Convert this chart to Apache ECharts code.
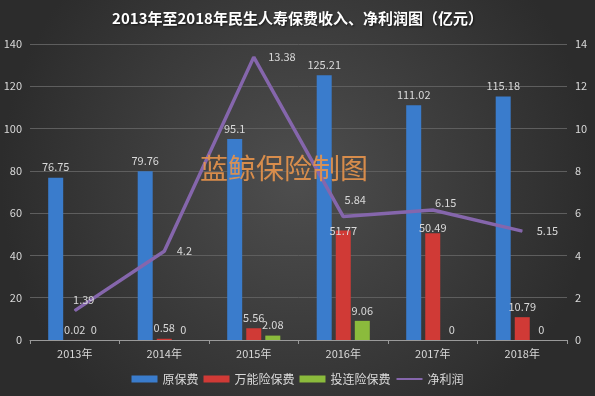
<!DOCTYPE html>
<html><head><meta charset="utf-8">
<script src="https://cdn.jsdelivr.net/npm/echarts@6/dist/echarts.min.js"></script>
<style>html,body{margin:0;padding:0;background:#3a3a3a}#c{width:595px;height:396px}</style>
</head><body><div id="c"></div>
<script>
const categories = ['2013年','2014年','2015年','2016年','2017年','2018年'];
const premium = [76.75, 79.76, 95.1, 125.21, 111.02, 115.18];
const universal = [0.02, 0.58, 5.56, 51.77, 50.49, 10.79];
const linked = [0, 0, 2.08, 9.06, 0, 0];
const profit = [1.39, 4.2, 13.38, 5.84, 6.15, 5.15];
const leftTicks = {min: 0, max: 140, interval: 20};
const rightTicks = {min: 0, max: 14, interval: 2};

const FONT = '"Noto Sans CJK SC", "Noto Sans", sans-serif';
const labelColor = '#d9d9d9';
const profitLabelCfg = [
  {position: 'top', offset: [9, 0], distance: 5},
  {position: 'right', distance: 12},
  {position: 'right', distance: 14},
  {position: 'top', offset: [12, 0], distance: 11},
  {position: 'top', offset: [13, 0], distance: 1},
  {position: 'right', distance: 14}
];
const universalLabelDist = [5, 5, 5, -6, 0, 5];
const chart = echarts.init(document.getElementById('c'));
const barLabel = {show: true, position: 'top', distance: 5, color: labelColor, fontSize: 11, fontFamily: FONT};
chart.setOption({
  backgroundColor: {type: 'radial', x: 0.5, y: 0.45, r: 0.75,
    colorStops: [{offset: 0, color: '#4e4e4e'}, {offset: 1, color: '#2c2c2c'}]},
  title: {text: '2013年至2018年民生人寿保费收入、净利润图（亿元）', left: 'center', top: 6,
    textStyle: {color: '#ffffff', fontSize: 15, fontWeight: 'bold', fontFamily: FONT,
      textShadowColor: 'rgba(0,0,0,0.6)', textShadowBlur: 2, textShadowOffsetX: 1, textShadowOffsetY: 1}},
  graphic: [{type: 'text', left: 200, top: 154, z: 100,
    style: {text: '蓝鲸保险制图', fill: 'rgba(228,146,76,0.92)', font: '28px "Noto Sans CJK SC"'}}],
  grid: {left: 30, right: 28, top: 44, bottom: 56},
  legend: {bottom: 6, left: 'center', itemWidth: 26, itemHeight: 7, itemGap: 5,
    textStyle: {color: labelColor, fontSize: 12, fontFamily: FONT},
    data: [{name: '原保费', icon: 'rect'}, {name: '万能险保费', icon: 'rect'}, {name: '投连险保费', icon: 'rect'},
      {name: '净利润', itemStyle: {opacity: 0}}]},
  xAxis: {type: 'category', data: categories,
    axisLine: {lineStyle: {color: '#9a9a9a'}},
    axisTick: {show: true, alignWithLabel: false, length: 4, lineStyle: {color: '#9a9a9a'}},
    axisLabel: {color: labelColor, fontSize: 11, fontFamily: FONT, margin: 8}},
  yAxis: [
    {type: 'value', min: leftTicks.min, max: leftTicks.max, interval: leftTicks.interval,
      axisLine: {show: false}, axisTick: {show: false},
      axisLabel: {color: labelColor, fontSize: 11, fontFamily: FONT, margin: 8},
      splitLine: {lineStyle: {color: '#5e5e5e', width: 1}}},
    {type: 'value', min: rightTicks.min, max: rightTicks.max, interval: rightTicks.interval,
      axisLine: {show: false}, axisTick: {show: false},
      axisLabel: {color: labelColor, fontSize: 11, fontFamily: FONT, margin: 8},
      splitLine: {show: false}}
  ],
  series: [
    {name: '原保费', type: 'bar', data: premium, barWidth: 15, barGap: '27%',
      itemStyle: {color: '#3a7ccc'}, label: barLabel},
    {name: '万能险保费', type: 'bar', barWidth: 15, barGap: '27%',
      data: universal.map((v, i) => ({value: v, label: {distance: universalLabelDist[i]}})),
      itemStyle: {color: '#d03a36'}, label: barLabel},
    {name: '投连险保费', type: 'bar', data: linked, barWidth: 15, barGap: '27%',
      itemStyle: {color: '#8bbb3c'}, label: barLabel},
    {name: '净利润', type: 'line', yAxisIndex: 1, z: 5,
      data: profit.map((v, i) => ({value: v, label: profitLabelCfg[i]})),
      symbol: 'circle', symbolSize: 1,
      itemStyle: {color: '#8566ac'},
      lineStyle: {color: '#8566ac', width: 3.5},
      label: {show: true, color: labelColor, fontSize: 11, fontFamily: FONT}}
  ]
});
</script></body></html>
